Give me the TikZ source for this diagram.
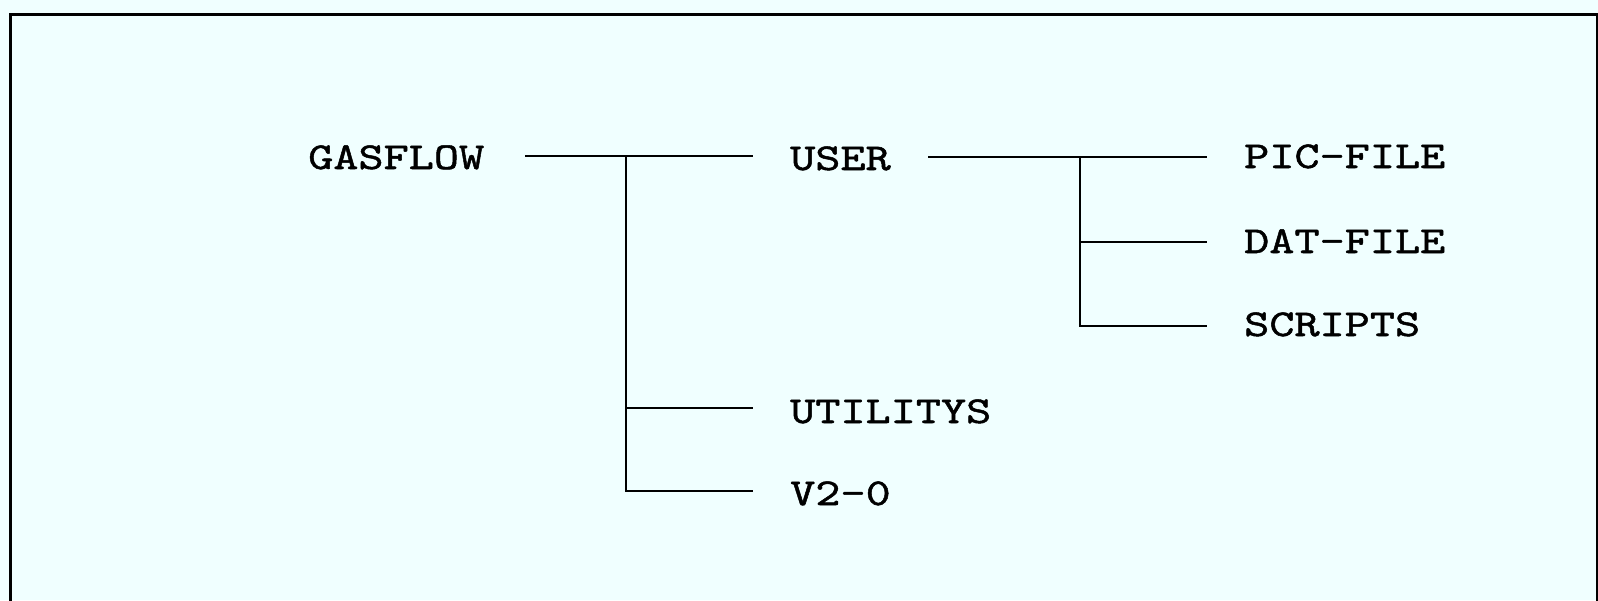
\documentclass[tikz,border=0pt]{standalone}
\usepackage{fontspec}
\newfontfamily\courfont[FakeStretch=1.26,FakeBold=1.3]{lmmono10-regular.otf}
\definecolor{bgcol}{HTML}{F0FFFF}
\tikzset{
  lbl/.style={anchor=base west, inner sep=0pt, font=\courfont\fontsize{38}{46}\selectfont, text height=23pt, text depth=0pt},
  conn/.style={draw=black, line width=1.9pt},
  frame/.style={draw=black, line width=3pt}
}
\begin{document}
\begin{tikzpicture}[x=1pt,y=-1pt]
\fill[bgcol] (0,0) rectangle (1598,600);
\useasboundingbox (0,0) rectangle (1598,600);
\draw[frame] (10,602) -- (10,14) -- (1597,14) -- (1597,602);
% nodes
\node[lbl] (gas) at (308,169) {GASFLOW};
\node[lbl] (user) at (790,170) {USER};
\node[lbl] (util) at (790,423) {UTILITYS};
\node[lbl] (v20) at (790,505) {V2-0};
\node[lbl] (pic) at (1244,168) {PIC-FILE};
\node[lbl] (dat) at (1244,253) {DAT-FILE};
\node[lbl] (scr) at (1244,336) {SCRIPTS};
% junctions
\coordinate (j1) at (626,156);
\coordinate (j2) at (1080,157);
% connectors
\draw[conn] (525,156) coordinate (g1) -- (753,156) coordinate (u1);
\draw[conn] (j1) |- (753,408) coordinate (t1);
\draw[conn] (j1) |- (753,491) coordinate (v1);
\draw[conn] (928,157) coordinate (u2) -- (1207,157) coordinate (p1);
\draw[conn] (j2) |- (1207,242) coordinate (d1);
\draw[conn] (j2) |- (1207,326) coordinate (s1);
\end{tikzpicture}
\end{document}
